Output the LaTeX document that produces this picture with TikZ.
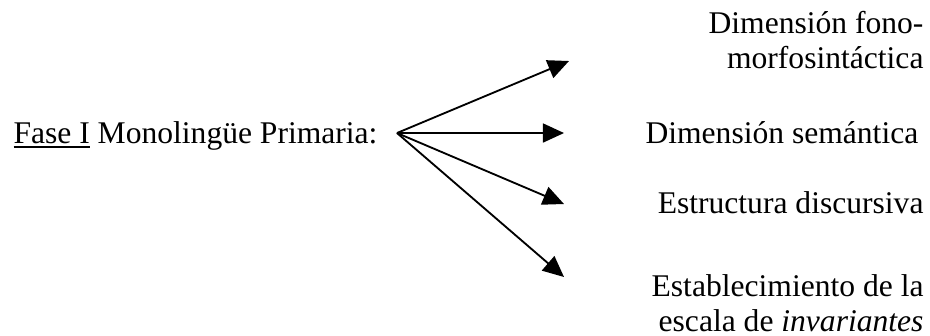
\documentclass[tikz,border=0pt]{standalone}
\usepackage{fontspec}
\setmainfont{Liberation Serif}
\usetikzlibrary{arrows.meta}

\begin{document}
\begin{tikzpicture}[
x=0.38pt, y=-0.38pt,
font=\fontsize{12}{13.3}\selectfont,
branch/.style={-{Triangle[length=8pt,width=7.2pt]},line width=0.7pt},
label/.style={inner sep=0pt,align=right}
]
    \useasboundingbox (0,0) rectangle (930,335);

    % Left text and fan origin
    \node (phase) [inner sep=0pt, anchor=base west] at (13,143)
        {\underline{Fase I} Monolingüe Primaria:};
    \coordinate (fan) at (397,133);

    % Arrow tips
    \draw
    	(569,61) coordinate (tipA)
    	(564,133) coordinate (tipB)
    	(564,204) coordinate (tipC)
    	(564,277) coordinate (tipD);

    \draw[branch] (fan) -- (tipA);
    \draw[branch] (fan) -- (tipB);
    \draw[branch] (fan) -- (tipC);
    \draw[branch] (fan) -- (tipD);

    % Right labels (base = last line)
    \node (fono) [label, anchor=base east] at (924,68)
        {Dimensión fono-\\morfosintáctica};
    \node (sem) [inner sep=0pt, anchor=base west] at (645,143)
        {Dimensión semántica};
    \node (disc) [label, anchor=base east] at (924,213)
        {Estructura discursiva};
    \node (inv) [label, anchor=base east] at (924,331)
        {Establecimiento de la\\escala de \textit{invariantes}};

\end{tikzpicture}
\end{document}
